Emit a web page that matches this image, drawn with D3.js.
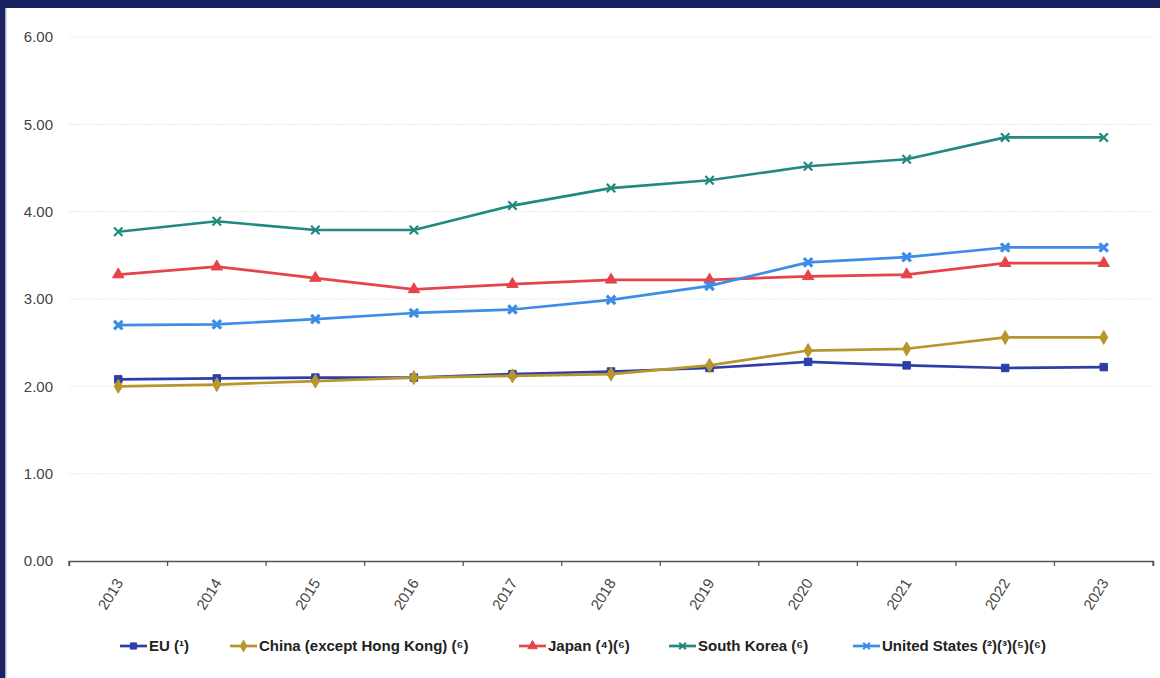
<!DOCTYPE html>
<html><head><meta charset="utf-8">
<script src="https://cdn.jsdelivr.net/npm/d3@7"></script>
<style>
html,body{margin:0;padding:0;background:#fff;}
svg{display:block;font-family:"Liberation Sans",Arial,sans-serif;}
</style></head>
<body>
<svg id="chart" width="1160" height="678"></svg>
<script>
const years = ["2013","2014","2015","2016","2017","2018","2019","2020","2021","2022","2023"];
const yTicks = [0,1,2,3,4,5,6];
const seriesNames = ["EU (¹)","China (except Hong Kong) (⁶)","Japan (⁴)(⁶)","South Korea (⁶)","United States (²)(³)(⁵)(⁶)"];
const euValues = [2.08,2.09,2.10,2.10,2.14,2.17,2.21,2.28,2.24,2.21,2.22];
const chinaValues = [2.00,2.02,2.06,2.10,2.12,2.14,2.24,2.41,2.43,2.56,2.56];
const japanValues = [3.28,3.37,3.24,3.11,3.17,3.22,3.22,3.26,3.28,3.41,3.41];
const koreaValues = [3.77,3.89,3.79,3.79,4.07,4.27,4.36,4.52,4.60,4.85,4.85];
const usValues = [2.70,2.71,2.77,2.84,2.88,2.99,3.15,3.42,3.48,3.59,3.59];

const colors = ["#2b3fa6","#b8962b","#e5444b","#21897f","#3c8de6"];
const symbols = [d3.symbolSquare,d3.symbolDiamond,d3.symbolTriangle,d3.symbolTimes,d3.symbolTimes];
const allValues = [euValues,chinaValues,japanValues,koreaValues,usValues];

const svg = d3.select("#chart");
// frame
svg.append("rect").attr("x",0).attr("y",0).attr("width",1160).attr("height",8).attr("fill","#1b2260");
svg.append("rect").attr("x",0).attr("y",0).attr("width",5).attr("height",678).attr("fill","#1b2260");
svg.append("rect").attr("x",5).attr("y",8).attr("width",1.5).attr("height",670).attr("fill","#aab0d0");

const mLeft = 69, mRight = 1153, mTop = 37, mBottom = 561;
const x = d3.scaleBand().domain(years).range([mLeft,mRight]);
const y = d3.scaleLinear().domain([0,6]).range([mBottom,mTop]);

// grid
svg.append("g").selectAll("line").data(yTicks.filter(d=>d>0)).join("line")
  .attr("x1",mLeft).attr("x2",mRight).attr("y1",d=>y(d)).attr("y2",d=>y(d))
  .attr("stroke","#e6e6e6").attr("stroke-width",1).attr("stroke-dasharray","2,1");

// y axis labels
const yAxis = svg.append("g").attr("transform",`translate(${mLeft},0)`)
  .call(d3.axisLeft(y).tickValues(yTicks).tickFormat(d3.format(".2f")).tickSize(0).tickPadding(16));
yAxis.select(".domain").remove();
yAxis.selectAll("text").attr("font-size",15).attr("fill","#444");

// x axis
const xAxis = svg.append("g").attr("transform",`translate(0,${mBottom})`)
  .call(d3.axisBottom(x).tickSize(5).tickSizeOuter(5));
xAxis.select(".domain").attr("stroke","#555").attr("stroke-width",1.5);
xAxis.selectAll(".tick line").remove();
const edges = years.map(d=>x(d)).concat([mRight]);
xAxis.selectAll(".edge").data(edges).join("line").attr("class","edge")
  .attr("x1",d=>d).attr("x2",d=>d).attr("y1",0).attr("y2",5).attr("stroke","#555").attr("stroke-width",1.3);
xAxis.selectAll(".tick text")
  .attr("font-size",15).attr("fill","#444")
  .attr("text-anchor","end")
  .attr("transform","translate(1,19) rotate(-58)")
  .attr("dy","0.35em").attr("y",0).attr("x",0);

const cx = d => x(d) + x.bandwidth()/2;
const line = d3.line().x((d,i)=>cx(years[i])).y(d=>y(d));

allValues.forEach((vals,k)=>{
  const g = svg.append("g");
  g.append("path").datum(vals).attr("d",line).attr("fill","none")
    .attr("stroke",colors[k]).attr("stroke-width",2.7).attr("stroke-linejoin","round");
  const sym = d3.symbol().type(symbols[k]).size(k>=3?48:56);
  g.selectAll("path.m").data(vals).join("path").attr("class","m")
    .attr("transform",(d,i)=>`translate(${cx(years[i])},${y(d)})`)
    .attr("d",sym())
    .attr("fill",colors[k])
    .attr("stroke",colors[k]).attr("stroke-width",k>=3?(k===4?3.2:2.2):1);
});

// legend
const legendX = [120,230,519,669,853];
const lg = svg.append("g").attr("transform","translate(0,646)");
seriesNames.forEach((n,k)=>{
  const g = lg.append("g").attr("transform",`translate(${legendX[k]},0)`);
  g.append("line").attr("x1",0).attr("x2",27).attr("y1",0).attr("y2",0).attr("stroke",colors[k]).attr("stroke-width",2.7);
  g.append("path").attr("transform","translate(13.5,0)").attr("d",d3.symbol().type(symbols[k]).size(k>=3?30:38)())
    .attr("fill",colors[k]).attr("stroke",colors[k]).attr("stroke-width",k>=3?2:1);
  g.append("text").attr("x",29).attr("y",0).attr("dy","0.35em").attr("font-size",15).attr("font-weight","bold")
    .attr("fill","#222").text(n);
});
</script>
</body></html>
